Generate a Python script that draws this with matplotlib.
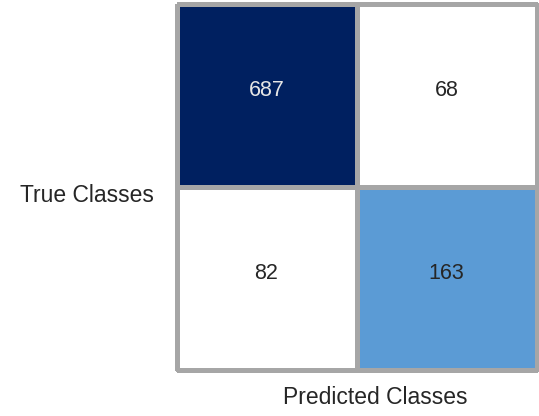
import numpy as np
import matplotlib.pyplot as plt
from matplotlib.colors import ListedColormap

plt.rcParams['font.family'] = ['Liberation Sans', 'DejaVu Sans']

# DATA
classes = ["0", "1"]
counts = np.array([[687, 68],
                   [82, 163]])

# value bands -> cell colour
bands = [100, 500]
cell_colours = ["#FFFFFF", "#5B9BD5", "#002060"]
text_colours = ["#262626", "#262626", "#E6E6E6"]

level = np.digitize(counts, bands)

fig = plt.figure(figsize=(5.39, 4.16), dpi=100)
ax = fig.add_axes([176.5 / 539, 1 - 370 / 416, 360 / 539, 366 / 416])

mesh = ax.pcolormesh(level, cmap=ListedColormap(cell_colours), vmin=-0.5, vmax=2.5,
                     edgecolors="#A6A6A6", linewidth=2.2)
mesh.set_clip_on(False)
ax.set_xlim(0, 2)
ax.set_ylim(2, 0)

for i in range(counts.shape[0]):
    for j in range(counts.shape[1]):
        ax.text(j + 0.5, i + 0.47, str(counts[i, j]), ha="center", va="center",
                fontsize=15.5, color=text_colours[level[i, j]])

ax.set_xticks([])
ax.set_yticks([])
for s in ax.spines.values():
    s.set_visible(False)

fig.text(86.5 / 539, 1 - 196 / 416, "True Classes", ha="center", va="center",
         fontsize=16.5, color="#262626")
fig.text(375 / 539, 1 - 397 / 416, "Predicted Classes", ha="center", va="center",
         fontsize=16.5, color="#262626")

fig.savefig("out.png", dpi=100)
